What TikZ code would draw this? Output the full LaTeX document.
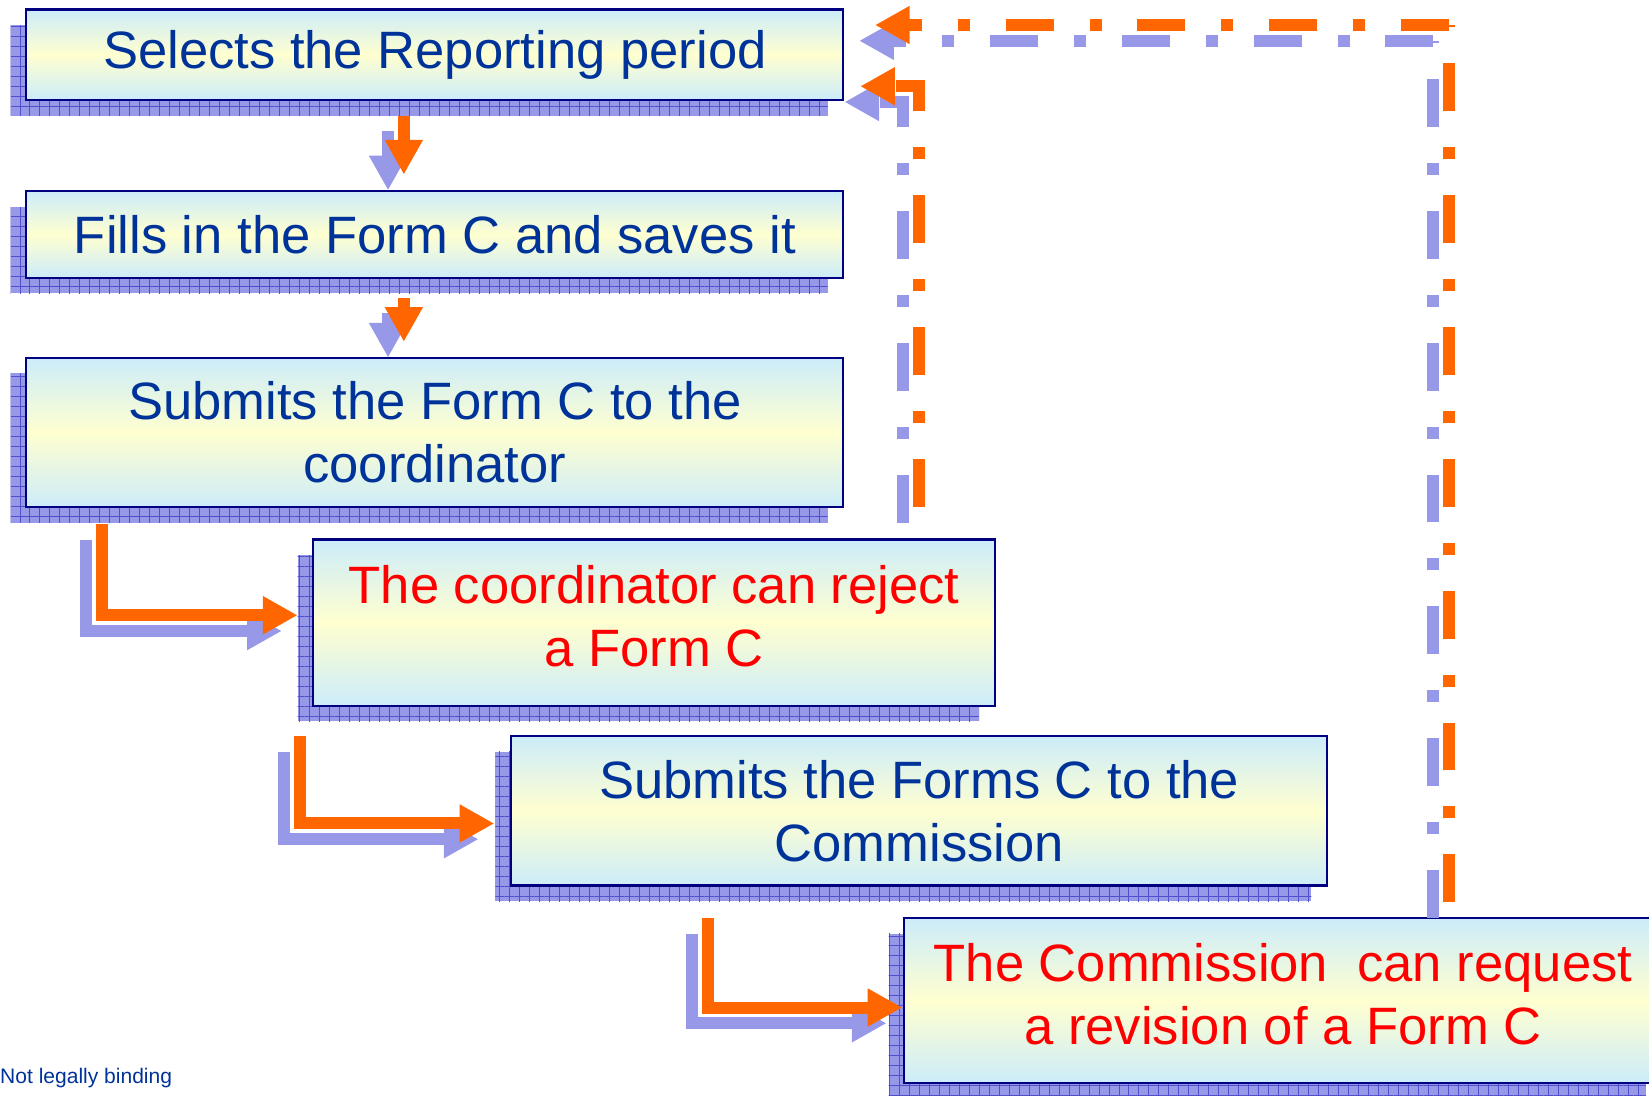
\documentclass[tikz,border=0pt]{standalone}
\usepackage{fontspec}
\setmainfont{Liberation Sans}
\usepackage{tikz}
\usetikzlibrary{arrows.meta, positioning, shadows, patterns.meta}
\definecolor{boxtop}{RGB}{204,236,250}
\definecolor{boxmid}{RGB}{255,255,208}
\definecolor{boxline}{RGB}{0,0,128}
\definecolor{txtblue}{RGB}{0,51,153}
\definecolor{txtred}{RGB}{255,0,0}
\definecolor{myorange}{RGB}{255,102,0}
\definecolor{shadowblue}{RGB}{152,152,232}
\definecolor{gridblue}{RGB}{80,80,205}
\tikzset{
  stepbox/.style={rectangle, draw=boxline, line width=2pt, top color=boxtop, bottom color=boxtop, middle color=boxmid, align=center, inner sep=0pt, outer sep=0pt, text=txtblue, font=\fontsize{50}{60}\selectfont,
    general shadow={shadow xshift=-15pt, shadow yshift=-15pt, fill=shadowblue},
    general shadow={shadow xshift=-15pt, shadow yshift=-15pt, pattern={Hatch[angle=0, distance=9.5pt, line width=0.9pt]}, pattern color=gridblue}},
  alertbox/.style={stepbox, text=txtred, text depth=13pt},
  flow/.style={-{Triangle[length=33pt, width=34pt]}, line width=11.4pt, draw=myorange,
    preaction={draw=shadowblue, line width=11.4pt, transform canvas={shift={(-15pt,-15pt)}}}},
  back/.style={-{Triangle[length=33pt, width=34pt]}, line width=11.4pt, draw=myorange, dash pattern=on 45.6pt off 34.2pt on 11.4pt off 34.2pt,
    preaction={draw=shadowblue, line width=11.4pt, dash pattern=on 45.6pt off 34.2pt on 11.4pt off 34.2pt, transform canvas={shift={(-15pt,-15pt)}}}}
}
\begin{document}
\begin{tikzpicture}[x=1pt, y=-1pt]
  \useasboundingbox (0,0) rectangle (1568,1042);

  \node [stepbox, minimum width=777pt, minimum height=86pt] (period) at (413.5,52) {Selects the Reporting period};
  \node [stepbox, minimum width=777pt, minimum height=82pt, below=87pt of period] (fillin) {Fills in the Form C and saves it};
  \node [stepbox, minimum width=777pt, minimum height=142pt, below=76pt of fillin] (submit) {Submits the Form C to the\\coordinator};
  \node [alertbox, minimum width=648pt, minimum height=158pt, below right=31pt and 273pt of submit.south west] (reject) {The coordinator can reject\\a Form C};
  \node [stepbox, minimum width=776pt, minimum height=142pt, below right=29pt and 188pt of reject.south west] (forms) {Submits the Forms C to the\\Commission};
  \node [alertbox, minimum width=720pt, minimum height=157pt, below right=31pt and 374pt of forms.south west] (revise) {The Commission\ \ can request\\a revision of a Form C};
  \node [font=\fontsize{20}{24}\selectfont, text=txtblue, anchor=base west, inner sep=0pt] (note) at (0,1030) {Not legally binding};

  \draw [flow] ([xshift=-29.5pt, yshift=-15pt]period.south) -- ([xshift=-29.5pt, yshift=16pt]fillin.north);
  \draw [flow] ([xshift=-29.5pt, yshift=-19pt]fillin.south) -- ([xshift=-29.5pt, yshift=15pt]submit.north);
  \draw [flow] ([xshift=72pt, yshift=-16pt]submit.south west) |- ([xshift=-15pt, yshift=7pt]reject.west);
  \draw [flow] ([xshift=-13pt, yshift=-29pt]reject.south west) |- ([xshift=-16pt, yshift=-12pt]forms.west);
  \draw [flow] ([xshift=187pt, yshift=-31pt]forms.south west) |- ([xshift=-2pt, yshift=-6.5pt]revise.west);

  % way back to the first step
  \draw [back] ([xshift=72pt]submit.south east) |- ([xshift=16pt, yshift=13pt]period.south east);
  \coordinate (corner) at (1378,23.8);
  \draw [back, -] ([xshift=518pt, yshift=15pt]revise.north west) -- (corner);
  \draw [back] (corner) -- ([xshift=30pt, yshift=-14.8pt]period.north east);
\end{tikzpicture}
\end{document}
